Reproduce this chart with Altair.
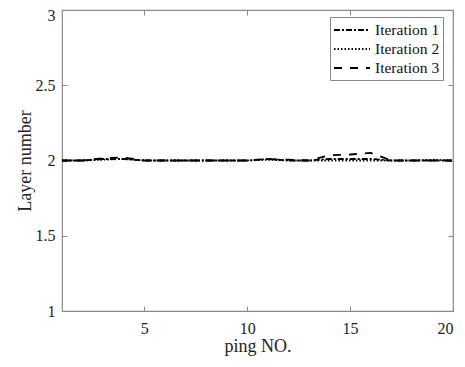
import altair as alt
import pandas as pd

ping = list(range(1, 21))
series_names = ["Iteration 1", "Iteration 2", "Iteration 3"]
iter1 = [2, 2, 2.01, 2.01, 2, 2, 2, 2, 2, 2, 2.01, 2, 2, 2.01, 2.01, 2.01, 2, 2, 2, 2]
iter2 = [2, 2, 2.005, 2.01, 2, 2, 2, 2, 2, 2, 2.005, 2, 2, 2, 2, 2, 2, 2, 2.005, 2]
iter3 = [2, 2, 2.015, 2.02, 2, 2, 2, 2, 2, 2, 2.01, 2.005, 2, 2.035, 2.04, 2.05, 2, 2, 2, 2]
x_ticks = [5, 10, 15, 20]
y_ticks = [1, 1.5, 2, 2.5, 3]

rows = []
for name, vals in zip(series_names, [iter1, iter2, iter3]):
    for p, v in zip(ping, vals):
        rows.append({"ping": p, "value": v, "series": name})
df = pd.DataFrame(rows)

FONT = "Liberation Serif, Times New Roman, serif"
GRAY = "#8a8a8a"
TXT = "#222222"

xscale = alt.Scale(domain=[1, 20], nice=False, zero=False)
yscale = alt.Scale(domain=[1, 3], nice=False, zero=False)

lines = alt.Chart(df).mark_line(color="black", strokeWidth=1.8).encode(
    x=alt.X("ping:Q", scale=xscale,
            axis=alt.Axis(values=x_ticks, title="ping NO.", orient="bottom",
                          domain=False, grid=False, offset=-5, tickSize=5,
                          tickColor=GRAY, labelPadding=9, titlePadding=1,
                          labelFontSize=16, titleFontSize=18,
                          labelFont=FONT, titleFont=FONT,
                          labelColor=TXT, titleColor=TXT,
                          titleFontWeight="normal")),
    y=alt.Y("value:Q", scale=yscale,
            axis=alt.Axis(values=y_ticks, title="Layer number", orient="left",
                          format="~g",
                          labelOffset=alt.condition("datum.value == 3", alt.value(5), alt.value(0)),
                          domain=False, grid=False, offset=-5, tickSize=5,
                          tickColor=GRAY, labelPadding=7, titlePadding=1,
                          labelFontSize=16, titleFontSize=18,
                          labelFont=FONT, titleFont=FONT,
                          labelColor=TXT, titleColor=TXT,
                          titleFontWeight="normal")),
    strokeDash=alt.StrokeDash(
        "series:N",
        scale=alt.Scale(domain=series_names, range=[[6, 2, 2, 2], [1.5, 2], [8, 8]]),
        legend=alt.Legend(title=None, orient="none", legendX=268, legendY=7,
                          labelFont=FONT, labelFontSize=15.5, labelColor="#111111",
                          symbolType="M-2,0H2", symbolSize=324, symbolStrokeWidth=2,
                          symbolStrokeColor="black", symbolOffset=9, labelOffset=13,
                          strokeColor=GRAY, fillColor="white",
                          padding=3, rowPadding=0, labelLimit=200),
    ),
    order="ping:Q",
)

frame_axes = alt.Chart(df).mark_point(opacity=0).encode(
    x=alt.X("ping:Q", scale=xscale,
            axis=alt.Axis(values=x_ticks, orient="top", labels=False, title=None,
                          domain=False, grid=False, offset=-5, tickSize=5,
                          tickColor=GRAY)),
    y=alt.Y("value:Q", scale=yscale,
            axis=alt.Axis(values=y_ticks, orient="right", labels=False, title=None,
                          domain=False, grid=False, offset=-5, tickSize=5,
                          tickColor=GRAY)),
)

chart = alt.layer(lines, frame_axes).resolve_axis(
    x="independent", y="independent"
).properties(
    width=391, height=301,
    autosize=alt.AutoSizeParams(type="none"),
    padding={"left": 54, "top": 2, "right": 4, "bottom": 48},
    background="white",
).configure_view(stroke=GRAY, strokeWidth=1.2)

chart.save("out.html", embed_options={"renderer": "svg", "actions": False})
